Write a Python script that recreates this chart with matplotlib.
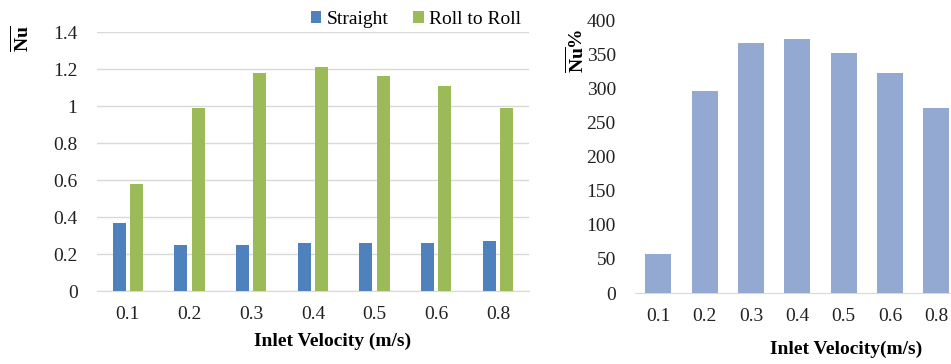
import numpy as np
from matplotlib import pyplot as plt
from matplotlib.ticker import FuncFormatter

plt.rcParams['font.family'] = ['Liberation Serif', 'DejaVu Serif']
plt.rcParams['mathtext.fontset'] = 'custom'
plt.rcParams['mathtext.rm'] = 'Liberation Serif'
plt.rcParams['mathtext.bf'] = 'Liberation Serif:bold'

velocity = ['0.1', '0.2', '0.3', '0.4', '0.5', '0.6', '0.8']
nu_straight = [0.37, 0.25, 0.25, 0.26, 0.26, 0.26, 0.27]
nu_roll = [0.58, 0.99, 1.18, 1.21, 1.16, 1.11, 0.99]
nu_percent = [57, 296, 366, 372, 351, 323, 271]

fig = plt.figure(figsize=(9.51, 3.64), dpi=100)

# left panel
ax1 = fig.add_axes([0.102, 0.2005, 0.454, 0.7115])
x = np.arange(len(velocity))
w = 0.21
ax1.bar(x - 0.14, nu_straight, w, color='#4F81BD', label='Straight', zorder=3)
ax1.bar(x + 0.14, nu_roll, w, color='#9BBB59', label='Roll to Roll', zorder=3)
ax1.set_xlim(-0.5, len(velocity) - 0.5)
ax1.set_ylim(0, 1.4)
ax1.set_yticks(np.arange(0, 1.41, 0.2))
ax1.yaxis.set_major_formatter(FuncFormatter(lambda v, p: '%g' % round(v, 1)))
ax1.set_xticks(x)
ax1.set_xticklabels(velocity)
ax1.grid(axis='y', color='#D9D9D9', linewidth=1, zorder=0)
for s in ['top', 'right', 'left']:
    ax1.spines[s].set_visible(False)
ax1.spines['bottom'].set_color('#D9D9D9')
ax1.tick_params(length=0, labelsize=14, colors='#222222')
ax1.tick_params(axis='y', pad=14)
ax1.tick_params(axis='x', pad=11)
ax1.set_xlabel('Inlet Velocity (m/s)', fontsize=14, fontweight='bold')
ax1.xaxis.set_label_coords(0.545, -0.16)
ax1.legend(loc='lower right', bbox_to_anchor=(1.0, 0.985), ncol=2, frameon=False,
           fontsize=14, handlelength=0.55, handleheight=0.55, handletextpad=0.25,
           columnspacing=1.3, borderaxespad=0)
fig.text(0.022, 0.895, r'$\overline{\mathbf{Nu}}$', rotation=90, fontsize=14,
         ha='center', va='center')

# right panel
ax2 = fig.add_axes([0.668, 0.195, 0.341, 0.75])
ax2.bar(x, nu_percent, 0.56, color='#93A9D1', zorder=3)
ax2.set_xlim(-0.5, len(velocity) - 0.5)
ax2.set_ylim(0, 400)
ax2.set_yticks(np.arange(0, 401, 50))
ax2.set_xticks(x)
ax2.set_xticklabels(velocity)
for s in ['top', 'right', 'left']:
    ax2.spines[s].set_visible(False)
ax2.spines['bottom'].set_color('#D9D9D9')
ax2.tick_params(length=0, labelsize=14, colors='#222222')
ax2.tick_params(axis='y', pad=14)
ax2.tick_params(axis='x', pad=11)
ax2.set_xlabel('Inlet Velocity(m/s)', fontsize=14, fontweight='bold')
ax2.xaxis.set_label_coords(0.65, -0.175)
fig.text(0.606, 0.86, r'$\overline{\mathbf{Nu}}\mathbf{\%}$', rotation=90, fontsize=14,
         ha='center', va='center')

fig.savefig('out.png', dpi=100)
